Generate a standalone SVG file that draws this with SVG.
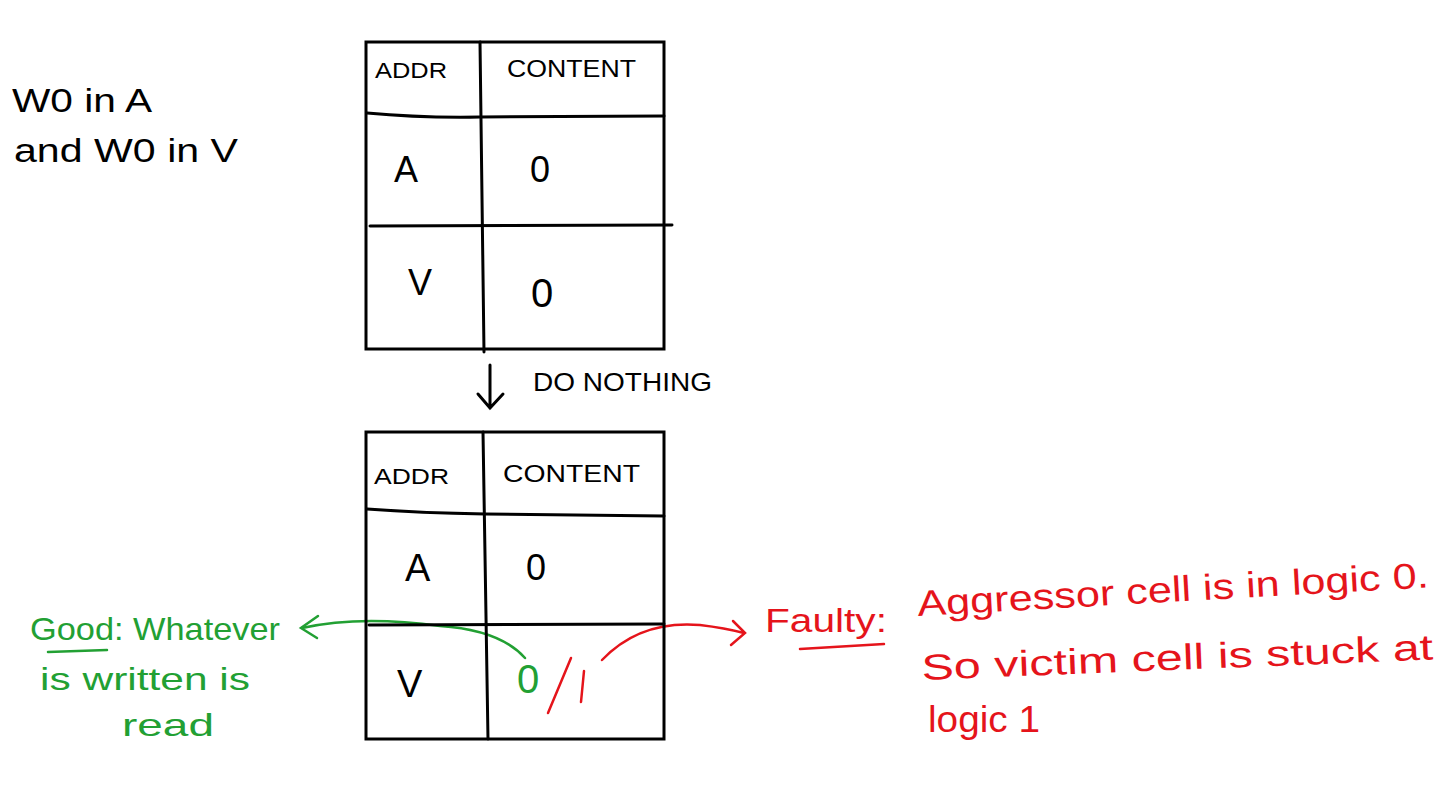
<svg xmlns="http://www.w3.org/2000/svg" width="1456" height="797" viewBox="0 0 1456 797">
<defs>
<style>
.t{font-family:"Liberation Sans","DejaVu Sans",sans-serif;fill:#000}
.ln{stroke:#000;stroke-width:3;fill:none;stroke-linecap:round}
.g{fill:#22a033;font-family:"Liberation Sans","DejaVu Sans",sans-serif}
.r{fill:#e5141b;font-family:"Liberation Sans","DejaVu Sans",sans-serif}
.gs{stroke:#22a033;stroke-width:2.5;fill:none;stroke-linecap:round}
.rs{stroke:#e5141b;stroke-width:2.5;fill:none;stroke-linecap:round}
</style>
</defs>
<rect width="1456" height="797" fill="#fff"/>
<g id="note-top">
<text class="t" x="12" y="112" font-size="34" textLength="140" lengthAdjust="spacingAndGlyphs">W0 in A</text>
<text class="t" x="14" y="162" font-size="34" textLength="224" lengthAdjust="spacingAndGlyphs">and W0 in V</text>
</g>
<g id="table1">
<rect class="ln" x="366" y="42" width="298" height="307"/>
<path class="ln" d="M367 113 Q420 118 480 117 L664 116"/>
<path class="ln" d="M480 42 L484 352"/>
<path class="ln" d="M370 226 L672 225"/>
<text class="t" x="375" y="78" font-size="22" textLength="72" lengthAdjust="spacingAndGlyphs">ADDR</text>
<text class="t" x="507" y="77" font-size="24" textLength="129" lengthAdjust="spacingAndGlyphs">CONTENT</text>
<text class="t" x="394" y="182" font-size="36">A</text>
<text class="t" x="530" y="182" font-size="36">0</text>
<text class="t" x="408" y="295" font-size="36">V</text>
<text class="t" x="531" y="307" font-size="40">0</text>
</g>
<g id="connectors">
<path class="ln" d="M490 365 L490 408 M478 394 L490 408 L503 394"/>
<path class="gs" d="M525 658 Q500 630 440 626 Q360 615 302 628"/>
<path class="gs" d="M318 616 L301 628 L317 638"/>
<path class="rs" d="M602 660 Q640 620 700 625 Q725 628 744 633"/>
<path class="rs" d="M733 621 L745 633 L731 645"/>
</g>
<g id="label-do-nothing">
<text class="t" x="533" y="391" font-size="26" textLength="179" lengthAdjust="spacingAndGlyphs">DO NOTHING</text>
</g>
<g id="table2">
<rect class="ln" x="366" y="432" width="298" height="307"/>
<path class="ln" d="M367 509 Q420 513 485 514 L664 516"/>
<path class="ln" d="M483 432 L488 739"/>
<path class="ln" d="M369 625 L664 624"/>
<text class="t" x="374" y="484" font-size="22" textLength="75" lengthAdjust="spacingAndGlyphs">ADDR</text>
<text class="t" x="503" y="482" font-size="24" textLength="137" lengthAdjust="spacingAndGlyphs">CONTENT</text>
<text class="t" x="405" y="581" font-size="38">A</text>
<text class="t" x="526" y="580" font-size="36">0</text>
<text class="t" x="397" y="697" font-size="38">V</text>
<text class="g" x="517" y="693" font-size="40">0</text>
<path class="rs" d="M571 658 L548 713" stroke-width="3"/>
<path class="rs" d="M584 671 L581 702" stroke-width="3"/>
</g>
<g id="note-good">
<text class="g" x="30" y="640" font-size="32" textLength="250" lengthAdjust="spacingAndGlyphs">Good: Whatever</text>
<path class="gs" d="M48 652 L107 650"/>
<text class="g" x="40" y="690" font-size="32" textLength="210" lengthAdjust="spacingAndGlyphs">is written is</text>
<text class="g" x="122" y="736" font-size="32" textLength="92" lengthAdjust="spacingAndGlyphs">read</text>
</g>
<g id="note-faulty">
<text class="r" x="765" y="632" font-size="34" textLength="122" lengthAdjust="spacingAndGlyphs">Faulty:</text>
<path class="rs" d="M800 649 L884 644"/>
<text class="r" x="918" y="616" font-size="36" transform="rotate(-3.2 918 616)" textLength="512" lengthAdjust="spacingAndGlyphs">Aggressor cell is in logic 0.</text>
<text class="r" x="922" y="680" font-size="36" transform="rotate(-2.3 922 680)" textLength="512" lengthAdjust="spacingAndGlyphs">So victim cell is stuck at</text>
<text class="r" x="928" y="732" font-size="36" textLength="112" lengthAdjust="spacingAndGlyphs">logic 1</text>
</g>
</svg>
